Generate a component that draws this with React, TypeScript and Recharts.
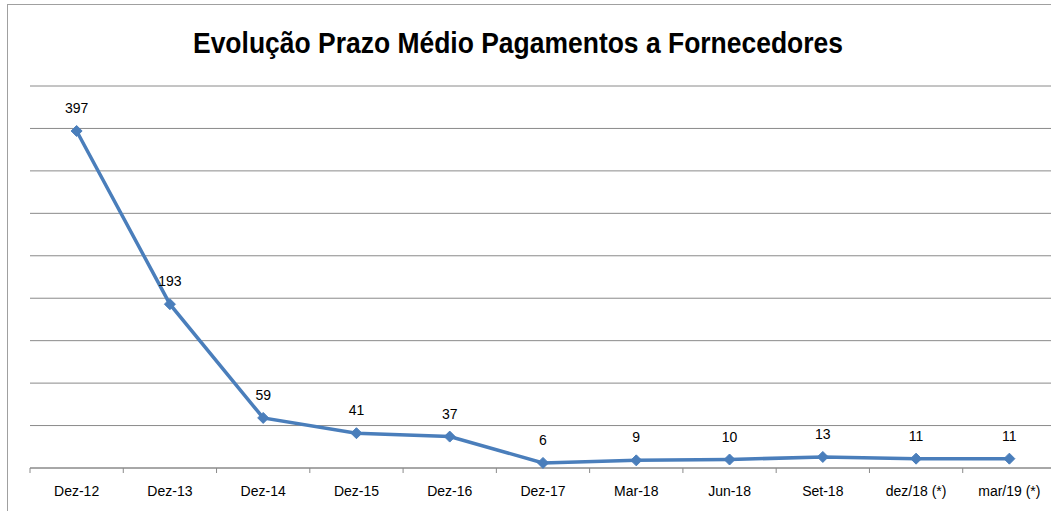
import React from "react";
import { LineChart, Line, XAxis, YAxis, CartesianGrid, LabelList } from "recharts";

const categories = ["Dez-12", "Dez-13", "Dez-14", "Dez-15", "Dez-16", "Dez-17", "Mar-18", "Jun-18", "Set-18", "dez/18 (*)", "mar/19 (*)"];
const values = [397, 193, 59, 41, 37, 6, 9, 10, 13, 11, 11];
const yTicks = [0, 50, 100, 150, 200, 250, 300, 350, 400, 450];
const title = "Evolução Prazo Médio Pagamentos a Fornecedores";

const data = categories.map((c, i) => ({ name: c, value: values[i] }));

const CHART_W = 1060;
const CHART_H = 511;
const X_AXIS_H = 43;
const MARGIN = { top: 86, right: 4, left: 30, bottom: 0 };
const BAND = (CHART_W - MARGIN.left - MARGIN.right) / categories.length;
const COLOR = "#4a7ebb";
const GRID = "#8a8a8a";
const FONT = "'Liberation Sans', Arial, sans-serif";

const Diamond = (props: any) => {
  const { cx, cy } = props;
  if (cx == null || cy == null) return null;
  const r = 5.5;
  return (
    <polygon
      points={`${cx},${cy - r} ${cx + r},${cy} ${cx},${cy + r} ${cx - r},${cy}`}
      fill={COLOR}
      stroke={COLOR}
      strokeWidth={1}
    />
  );
};

const Tick = (props: any) => {
  const { x, payload, index } = props;
  const axisY = CHART_H - X_AXIS_H;
  return (
    <g>
      <line x1={x - BAND / 2} x2={x - BAND / 2} y1={axisY} y2={axisY + 5} stroke={GRID} strokeWidth={1} />
      {index === categories.length - 1 && (
        <line x1={x + BAND / 2} x2={x + BAND / 2} y1={axisY} y2={axisY + 5} stroke={GRID} strokeWidth={1} />
      )}
      <text x={x} y={axisY + 28} textAnchor="middle" fontSize={14} fontFamily={FONT} fill="#000">
        {payload.value}
      </text>
    </g>
  );
};

const EmptyTick = () => <g />;

const ValueLabel = (props: any) => {
  const { x, y, value } = props;
  return (
    <text x={x} y={y - 18} textAnchor="middle" fontSize={14} fontFamily={FONT} fill="#000">
      {value}
    </text>
  );
};

export default function App() {
  return (
    <div style={{ position: "absolute", left: 0, top: 0, width: 1051, height: 511, overflow: "hidden", background: "#fff" }}>
      <div style={{ position: "absolute", left: 7, top: 4, width: 2000, height: 2000, border: "1px solid #a0a0a0" }} />
      <svg style={{ position: "absolute", left: 0, top: 0 }} width={1051} height={80}>
        <text
          x={518}
          y={53}
          textAnchor="middle"
          fontSize={29}
          fontWeight="bold"
          fontFamily={FONT}
          fill="#000"
          textLength={650}
          lengthAdjust="spacingAndGlyphs"
        >
          {title}
        </text>
      </svg>
      <div style={{ position: "absolute", left: 0, top: 0 }}>
        <LineChart width={CHART_W} height={CHART_H} data={data} margin={MARGIN}>
          <CartesianGrid vertical={false} stroke={GRID} strokeWidth={1} />
          <XAxis
            dataKey="name"
            axisLine={{ stroke: GRID, strokeWidth: 1 }}
            tickLine={false}
            tick={<Tick />}
            interval={0}
            height={X_AXIS_H}
            padding={{ left: BAND / 2, right: BAND / 2 }}
          />
          <YAxis width={0} domain={[0, 450]} ticks={yTicks} tick={<EmptyTick />} axisLine={false} tickLine={false} />
          <Line
            type="linear"
            dataKey="value"
            stroke={COLOR}
            strokeWidth={3.5}
            dot={<Diamond />}
            activeDot={false}
            isAnimationActive={false}
          >
            <LabelList dataKey="value" content={<ValueLabel />} />
          </Line>
        </LineChart>
      </div>
    </div>
  );
}
